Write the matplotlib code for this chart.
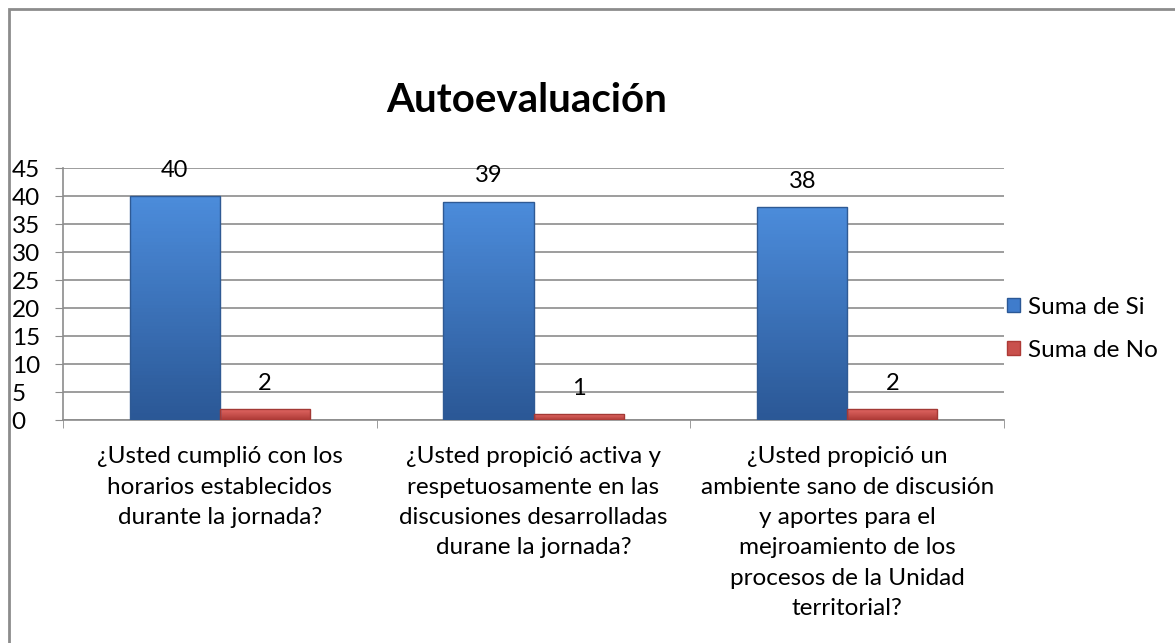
import matplotlib.pyplot as plt
import numpy as np
from matplotlib.colors import LinearSegmentedColormap
from matplotlib.patches import Patch, Rectangle

plt.rcParams['font.family'] = ['Lato', 'DejaVu Sans']

categorias = [
    '¿Usted cumplió con los\nhorarios establecidos\ndurante la jornada?',
    '¿Usted propició activa y\nrespetuosamente en las\ndiscusiones desarrolladas\ndurane la jornada?',
    '¿Usted propició un\nambiente sano de discusión\ny aportes para el\nmejroamiento de los\nprocesos de la Unidad\nterritorial?',
]
suma_si = [40, 39, 38]
suma_no = [2, 1, 2]
series = ['Suma de Si', 'Suma de No']
y_ticks = [0, 5, 10, 15, 20, 25, 30, 35, 40, 45]

blue_top, blue_bot = '#4c8cdb', '#2b5896'
red_top, red_bot = '#e66b67', '#ad3a36'

fig = plt.figure(figsize=(11.75, 6.43), dpi=100)
ax = fig.add_axes([0.0536, 0.3468, 0.8009, 0.3919])

x = np.arange(len(categorias))
w = 0.287
bars_si = ax.bar(x - w / 2, suma_si, w, color=blue_top, zorder=3)
bars_no = ax.bar(x + w / 2, suma_no, w, color=red_top, zorder=3)


def shade(bars, top, bot, edge):
    # vertical gradient clipped to each bar, darker rim like the bevel
    cmap = LinearSegmentedColormap.from_list('g', [bot, top])
    grad = np.linspace(0, 1, 64).reshape(-1, 1)
    for b in bars:
        x0, y0 = b.get_x(), b.get_y()
        im = ax.imshow(grad, extent=(x0, x0 + b.get_width(), y0, y0 + b.get_height()),
                       origin='lower', cmap=cmap, aspect='auto', zorder=4)
        im.set_clip_path(b)
        ax.add_patch(Rectangle((x0, y0), b.get_width(), b.get_height(), fill=False,
                               edgecolor=edge, linewidth=1, zorder=5))


shade(bars_si, blue_top, blue_bot, '#2f5a94')
shade(bars_no, red_top, red_bot, '#a33935')
ax.set_xlim(-0.5, 2.5)
ax.set_ylim(0, 45)

for bars, vals in [(bars_si, suma_si), (bars_no, suma_no)]:
    for b, v in zip(bars, vals):
        ax.annotate(str(v), (b.get_x() + b.get_width() / 2, v), xytext=(0, 11),
                    textcoords='offset points', ha='center', va='bottom',
                    fontsize=17, zorder=6)

ax.set_yticks(y_ticks)
ax.yaxis.grid(True, color='#8c8c8c', linewidth=1.2, zorder=0)
ax.tick_params(axis='y', length=6, color='#8c8c8c', labelsize=17.5, pad=31)
for lbl in ax.get_yticklabels():
    lbl.set_horizontalalignment('left')

ax.set_xticks(x)
ax.set_xticklabels(categorias, fontsize=17.5, linespacing=1.55, va='top')
ax.set_xticks([-0.5, 0.5, 1.5, 2.5], minor=True)
ax.tick_params(axis='x', which='major', length=0, pad=19)
ax.tick_params(axis='x', which='minor', length=6, color='#8c8c8c')

for s in ['top', 'right']:
    ax.spines[s].set_visible(False)
for s in ['left', 'bottom']:
    ax.spines[s].set_color('#8c8c8c')
    ax.spines[s].set_linewidth(1.2)

handles = [Patch(facecolor='#3f7ccc', edgecolor='#2b5896'),
           Patch(facecolor='#c9504c', edgecolor='#ad3a36')]
fig.legend(handles, series, loc='center left', bbox_to_anchor=(0.857, 0.489),
           frameon=False, fontsize=17.5, handlelength=0.55, handleheight=0.55,
           handletextpad=0.3, labelspacing=0.9, borderpad=0, borderaxespad=0)

fig.text(0.4485, 0.8258, 'Autoevaluación', fontsize=29, fontweight='bold',
         ha='center', va='baseline')

# grey frame of the chart area
fig.add_artist(Rectangle((9 / 1175, -0.1), 1.2, 1 - 9 / 643 + 0.1,
                         transform=fig.transFigure, fill=False,
                         edgecolor='#8c8c8c', linewidth=2))

fig.savefig('out.png', dpi=100)
